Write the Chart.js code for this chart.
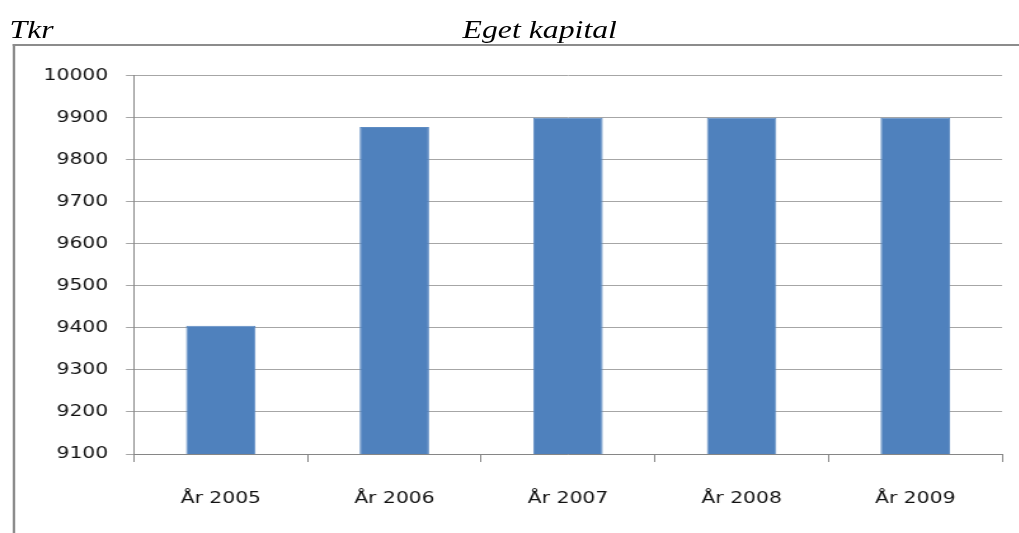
<!DOCTYPE html>
<html>
<head>
<meta charset="utf-8">
<script src="https://cdn.jsdelivr.net/npm/chart.js@4"></script>
<style>
  html, body { margin: 0; padding: 0; background: #fff; overflow: hidden; }
  /* the original picture is stretched sideways, so is this page */
  #sida { position: absolute; left: 0; top: 0; width: 802px; height: 533px;
          transform: scaleX(1.27); transform-origin: 0 0; }
  .rubrik { position: absolute; font-family: "Liberation Serif", serif; font-style: italic;
            font-size: 25px; color: #000; line-height: 1; }
  #ram { position: absolute; left: 9.5px; top: 44px; width: 900px; height: 600px;
         border-top: 2px solid #8c8c8c; border-left: 2px solid #8c8c8c; }
  #myChart { position: absolute; left: 0; top: 0; }
</style>
</head>
<body>
<div id="sida">
  <div id="ram"></div>
  <div class="rubrik" style="left:7.5px; top:17px;">Tkr</div>
  <div class="rubrik" style="left:0; width:850px; top:17px; text-align:center;">Eget kapital</div>
  <canvas id="myChart" width="802" height="533"></canvas>
</div>
<script>
// data
var ar = ['År 2005', 'År 2006', 'År 2007', 'År 2008', 'År 2009']
var eget_kapital = [9405, 9878, 9900, 9900, 9900]
var y_min = 9100
var y_max = 10000
var y_steg = 100

var ctx = document.getElementById('myChart')
var grid_farg = '#a6a6a6'
var axel_farg = '#868686'

var myBarChart = new Chart(ctx, {
    type: 'bar',
    data: {
        labels: ar,
        datasets: [{
            label: 'Eget kapital',
            data: eget_kapital,
            backgroundColor: '#4f81bd',
            borderColor: '#5e8cc3',
            borderWidth: 1,
            borderSkipped: 'bottom',
            barPercentage: 0.4,
            categoryPercentage: 1
        }]
    },
    options: {
        responsive: false,
        animation: false,
        layout: { padding: { left: 0, right: 13, top: 75.7, bottom: 0 } },
        plugins: { legend: { display: false }, tooltip: { enabled: false }, title: { display: false } },
        scales: {
            x: {
                offset: true,
                grid: { display: true, drawOnChartArea: false, offset: true, color: axel_farg, tickLength: 8 },
                border: { color: axel_farg, width: 1 },
                ticks: { color: '#111', font: { family: 'DejaVu Sans', size: 16 }, padding: 27 },
                afterFit: function (scale) { scale.height = 79 }
            },
            y: {
                min: y_min,
                max: y_max,
                grid: { color: grid_farg, tickLength: 6.3 },
                border: { color: axel_farg, width: 1 },
                ticks: {
                    stepSize: y_steg,
                    color: '#111',
                    font: { family: 'DejaVu Sans', size: 16 },
                    padding: 14,
                    callback: function (v) { return String(v) }
                },
                afterFit: function (scale) { scale.width = 105.5 }
            }
        }
    }
});
</script>
</body>
</html>
